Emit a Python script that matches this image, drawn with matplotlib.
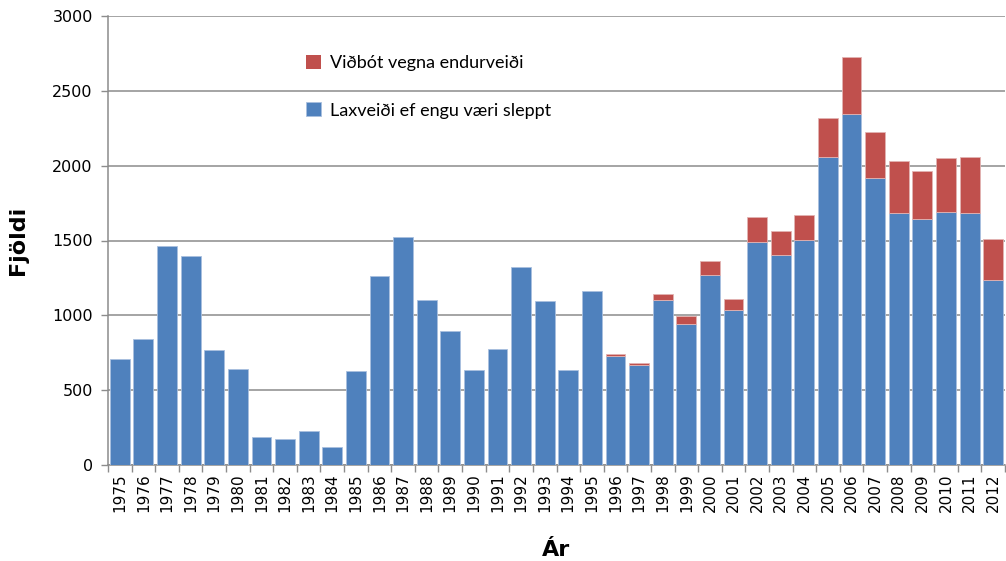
import numpy as np
import matplotlib
matplotlib.use("Agg")
import matplotlib.pyplot as plt

# Gögn lesin af myndinni
ar = list(range(1975, 2013))
laxveidi = [706, 842, 1463, 1396, 766, 641, 187, 171, 229, 120,
            626, 1262, 1523, 1102, 893, 635, 775, 1323, 1093, 635,
            1162, 730, 666, 1100, 944, 1267, 1033, 1488, 1403, 1505,
            2057, 2343, 1915, 1681, 1641, 1688, 1681, 1236]
heild = [706, 842, 1463, 1396, 766, 641, 187, 171, 229, 120,
         626, 1262, 1523, 1102, 893, 635, 775, 1323, 1093, 635,
         1162, 743, 683, 1142, 995, 1361, 1109, 1655, 1563, 1672,
         2318, 2728, 2224, 2031, 1964, 2049, 2057, 1512]
vidbot = [h - l for h, l in zip(heild, laxveidi)]

blue = "#4F81BD"
red = "#C0504D"
grid_col = "#8C8C8C"

plt.rcParams["font.family"] = ["DejaVu Sans"]

fig = plt.figure(figsize=(10.06, 5.61), dpi=100)
ax = fig.add_axes([108 / 1006, 1 - 465 / 561, (1005 - 108) / 1006, (465 - 16) / 561])

x = np.arange(len(ar))
ax.bar(x, laxveidi, width=0.84, color=blue, edgecolor="#A9C0DF", linewidth=0.6,
       label="Laxveiði ef engu væri sleppt", zorder=3)
red_edges = ["#E2B4B3" if v > 0 else "none" for v in vidbot]
ax.bar(x, vidbot, bottom=laxveidi, width=0.84, color=red, edgecolor=red_edges,
       linewidth=0.6, label="Viðbót vegna endurveiði", zorder=3)

ax.set_xlim(-0.5, len(ar) - 0.5)
ax.set_ylim(0, 3000)
ax.set_yticks(range(0, 3001, 500))
ax.yaxis.grid(True, color=grid_col, linewidth=1.1, zorder=0)

ax.set_xticks(x)
ax.set_xticklabels([str(a) for a in ar], rotation=90, fontsize=11)
ax.set_xticks(np.arange(-0.5, len(ar), 1), minor=True)
ax.tick_params(axis="x", which="major", length=0, pad=6)
ax.tick_params(axis="x", which="minor", length=5, color=grid_col, width=1)
ax.tick_params(axis="y", length=5, color=grid_col, width=1, labelsize=11.5, pad=6)

for side in ["top", "right"]:
    ax.spines[side].set_visible(False)
for side in ["left", "bottom"]:
    ax.spines[side].set_color(grid_col)
    ax.spines[side].set_linewidth(1.1)

ax.set_ylabel("Fjöldi", fontsize=16, fontweight="bold", labelpad=17)
ax.set_xlabel("Ár", fontsize=16, fontweight="bold", labelpad=20)

handles, labels = ax.get_legend_handles_labels()
ax.legend(handles[::-1], labels[::-1], loc="upper left",
          bbox_to_anchor=(182 / 897, 0.95), frameon=False,
          prop={"family": "Lato", "size": 13}, labelspacing=1.75,
          handlelength=0.8, handleheight=0.8, handletextpad=0.5)

fig.savefig("out.png", dpi=100)
